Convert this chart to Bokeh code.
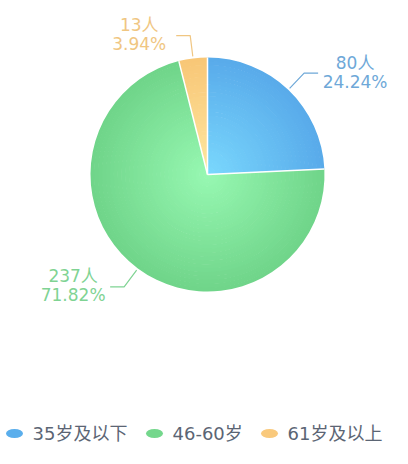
import numpy as np
from bokeh.plotting import figure
from bokeh.models import Range1d
from bokeh.core.properties import value
from bokeh.embed import file_html
from bokeh.resources import INLINE

# ---- data ----
categories = ["35岁及以下", "46-60岁", "61岁及以上"]
counts = [80, 237, 13]
percents = ["24.24%", "71.82%", "3.94%"]

# ---- style ----
inner_cols = ["#7ad8fd", "#97f8b2", "#fee7a0"]
outer_cols = ["#58aaea", "#6fd489", "#f8c676"]
label_cols = ["#6ea8d8", "#7fd393", "#f0c682"]
legend_cols = ["#5aaeec", "#74d78c", "#f9c97c"]
FONT = "DejaVu Sans, Noto Sans CJK SC"

W, H = 392, 448
p = figure(width=W, height=H, output_backend="svg", toolbar_location=None,
           x_range=Range1d(0, W), y_range=Range1d(0, H), min_border=0)
p.axis.visible = False
p.grid.visible = False
p.outline_line_color = None
p.background_fill_color = "white"


def Y(y):
    return H - y


cx, cy, R = 207.0, Y(174.0), 117.0
total = sum(counts)
fracs = np.array(counts) / total
ends = 90 - 360 * np.cumsum(fracs)
starts = np.concatenate([[90], ends[:-1]])


def mix(c1, c2, t):
    a = [int(c1[i:i + 2], 16) for i in (1, 3, 5)]
    b = [int(c2[i:i + 2], 16) for i in (1, 3, 5)]
    return "#%02x%02x%02x" % tuple(int(round(a[k] + (b[k] - a[k]) * t)) for k in range(3))


N = 30
for i in range(len(counts)):
    for k in range(N):
        r0 = R * k / N
        r1 = R * (k + 1) / N + 0.6
        t = (k + 0.5) / N
        p.annular_wedge(x=cx, y=cy, inner_radius=r0, outer_radius=min(r1, R),
                        start_angle=starts[i], end_angle=ends[i], direction="clock",
                        start_angle_units="deg", end_angle_units="deg",
                        fill_color=mix(inner_cols[i], outer_cols[i], t), line_color=None)

# white separators
for i in range(len(counts)):
    ar = np.deg2rad(starts[i])
    p.line([cx, cx + R * np.cos(ar)], [cy, cy + R * np.sin(ar)], line_color="white", line_width=1.5)

# labels with leader lines
for i in range(len(counts)):
    mid = np.deg2rad((starts[i] + ends[i]) / 2)
    x0, y0 = cx + (R + 2) * np.cos(mid), cy + (R + 2) * np.sin(mid)
    x1, y1 = cx + (R + 23) * np.cos(mid), cy + (R + 23) * np.sin(mid)
    side = 1 if np.cos(mid) >= 0 else -1
    x2 = x1 + side * 14
    p.line([x0, x1, x2], [y0, y1, y1], line_color=label_cols[i], line_width=1.2)
    tx = x2 + side * 37
    p.text(x=[tx], y=[y1 + 10.5], text=[f"{counts[i]}人"], text_align="center",
           text_baseline="middle", text_color=label_cols[i], text_font=value(FONT),
           text_font_size="17px")
    p.text(x=[tx], y=[y1 - 8.5], text=[percents[i]], text_align="center",
           text_baseline="middle", text_color=label_cols[i], text_font=value(FONT),
           text_font_size="17px")

# legend
icon_x = [14, 154, 269]
ly = Y(433)
for i in range(len(categories)):
    p.ellipse(x=[icon_x[i]], y=[ly], width=17, height=9, fill_color=legend_cols[i],
              line_color=None)
    p.text(x=[icon_x[i] + 18], y=[ly], text=[categories[i]], text_align="left",
           text_baseline="middle", text_color="#5b6574", text_font=value(FONT),
           text_font_size="18px")

open("out.html", "w").write(file_html(p, INLINE))
